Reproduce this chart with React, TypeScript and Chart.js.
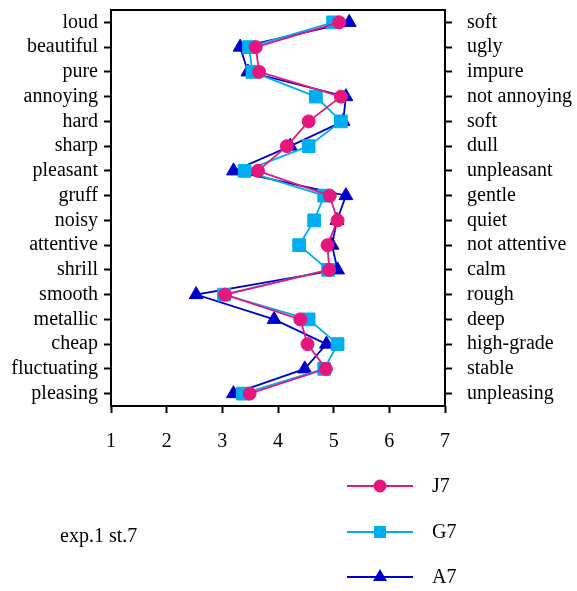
import React, { useEffect, useRef } from "react";
import Chart from "chart.js/auto";

const leftLabels = ["loud", "beautiful", "pure", "annoying", "hard", "sharp", "pleasant", "gruff", "noisy", "attentive", "shrill", "smooth", "metallic", "cheap", "fluctuating", "pleasing"];
const rightLabels = ["soft", "ugly", "impure", "not annoying", "soft", "dull", "unpleasant", "gentle", "quiet", "not attentive", "calm", "rough", "deep", "high-grade", "stable", "unpleasing"];
const seriesNames = ["J7", "G7", "A7"];
const j7 = [5.10, 3.60, 3.66, 5.13, 4.55, 4.16, 3.64, 4.93, 5.07, 4.89, 4.92, 3.05, 4.40, 4.53, 4.86, 3.49];
const g7 = [4.99, 3.48, 3.54, 4.68, 5.13, 4.55, 3.40, 4.83, 4.65, 4.38, 4.90, 3.03, 4.55, 5.07, 4.83, 3.37];
const a7 = [5.28, 3.32, 3.46, 5.22, 5.17, 4.22, 3.20, 5.22, 5.06, 4.97, 5.07, 2.53, 3.93, 4.87, 4.48, 3.20];
const xTicks = [1, 2, 3, 4, 5, 6, 7];
const note = "exp.1 st.7";

const FONT = "Liberation Serif";
const FS = 20;
const colors = ["#E6167F", "#00AEEF", "#0000CC"];
const styles = ["circle", "rect", "triangle"];
const radii = [6.5, 9, 8];

export default function App() {
  const ref = useRef<HTMLCanvasElement>(null);
  useEffect(() => {
    const canvas = ref.current!;
    const series = [j7, g7, a7];
    const framePlugin = {
      id: "frame",
      beforeDatasetsDraw(chart: any) {
        const { ctx, chartArea } = chart;
        ctx.save();
        ctx.strokeStyle = "#000";
        ctx.lineWidth = 2;
        ctx.strokeRect(chartArea.left, chartArea.top, chartArea.right - chartArea.left, chartArea.bottom - chartArea.top);
        ctx.restore();
      },
      afterDraw(chart: any) {
        const { ctx } = chart;
        ctx.save();
        ctx.font = `${FS}px "${FONT}"`;
        ctx.fillStyle = "#000";
        ctx.textBaseline = "middle";
        ctx.textAlign = "left";
        ctx.fillText(note, 60, 537);
        const ys = [486, 532, 577];
        chart.data.datasets.forEach((ds: any, i: number) => {
          const y = ys[i];
          ctx.strokeStyle = ds.borderColor;
          ctx.lineWidth = 1.8;
          ctx.beginPath();
          ctx.moveTo(347, y);
          ctx.lineTo(413, y);
          ctx.stroke();
          ctx.fillStyle = ds.backgroundColor;
          const cx = 380;
          if (ds.pointStyle === "circle") {
            ctx.beginPath();
            ctx.arc(cx, y, 6.5, 0, Math.PI * 2);
            ctx.fill();
          } else if (ds.pointStyle === "rect") {
            ctx.fillRect(cx - 6, y - 6, 12, 12);
          } else {
            ctx.beginPath();
            ctx.moveTo(cx, y - 8);
            ctx.lineTo(cx + 7, y + 4);
            ctx.lineTo(cx - 7, y + 4);
            ctx.closePath();
            ctx.fill();
          }
          ctx.fillStyle = "#000";
          ctx.fillText(ds.label, 432, y + 1);
        });
        ctx.restore();
      },
    };
    const noPadV = (s: any, w: number) => { s.width = w; s.paddingTop = 0; s.paddingBottom = 0; };
    const chart = new Chart(canvas, {
      type: "line",
      data: {
        labels: leftLabels,
        datasets: series.map((d, i) => ({
          label: seriesNames[i],
          data: d,
          borderColor: colors[i],
          backgroundColor: colors[i],
          pointBackgroundColor: colors[i],
          pointBorderColor: colors[i],
          pointStyle: styles[i],
          pointRadius: radii[i],
          pointBorderWidth: 1,
          borderWidth: 1.8,
          tension: 0,
          clip: false,
          yAxisID: "y",
          xAxisID: "x",
        })),
      },
      options: {
        indexAxis: "y",
        responsive: false,
        animation: false,
        devicePixelRatio: 1,
        layout: { padding: { top: 9, left: 0, right: 0, bottom: 0 } },
        plugins: { legend: { display: false }, tooltip: { enabled: false } },
        scales: {
          x: {
            type: "linear",
            position: "bottom",
            min: 1,
            max: 7,
            afterBuildTicks: (s: any) => { s.ticks = xTicks.map((v) => ({ value: v })); },
            afterFit: (s: any) => { s.height = 185; s.paddingLeft = 0; s.paddingRight = 0; },
            border: { display: false },
            grid: { drawOnChartArea: false, drawTicks: true, tickLength: 7, tickColor: "#000", tickWidth: 2 },
            ticks: { color: "#000", font: { family: FONT, size: FS }, padding: 17, maxRotation: 0 },
          },
          y: {
            type: "category",
            position: "left",
            offset: true,
            afterFit: (s: any) => noPadV(s, 111),
            border: { display: false },
            grid: { offset: false, drawOnChartArea: false, drawTicks: true, tickLength: 7, tickColor: "#000", tickWidth: 2 },
            ticks: { color: "#000", font: { family: FONT, size: FS }, padding: 6, autoSkip: false },
          },
          y2: {
            type: "category",
            axis: "y",
            position: "right",
            labels: rightLabels,
            offset: true,
            afterFit: (s: any) => noPadV(s, 132),
            border: { display: false },
            grid: { offset: false, drawOnChartArea: false, drawTicks: true, tickLength: 7, tickColor: "#000", tickWidth: 2 },
            ticks: { color: "#000", font: { family: FONT, size: FS }, padding: 15, autoSkip: false },
          },
        },
      } as any,
      plugins: [framePlugin],
    });
    return () => chart.destroy();
  }, []);
  return (
    <canvas
      ref={ref}
      width={577}
      height={591}
      style={{ position: "fixed", left: 0, top: 0, width: 577, height: 591, display: "block", background: "#fff" }}
    />
  );
}
